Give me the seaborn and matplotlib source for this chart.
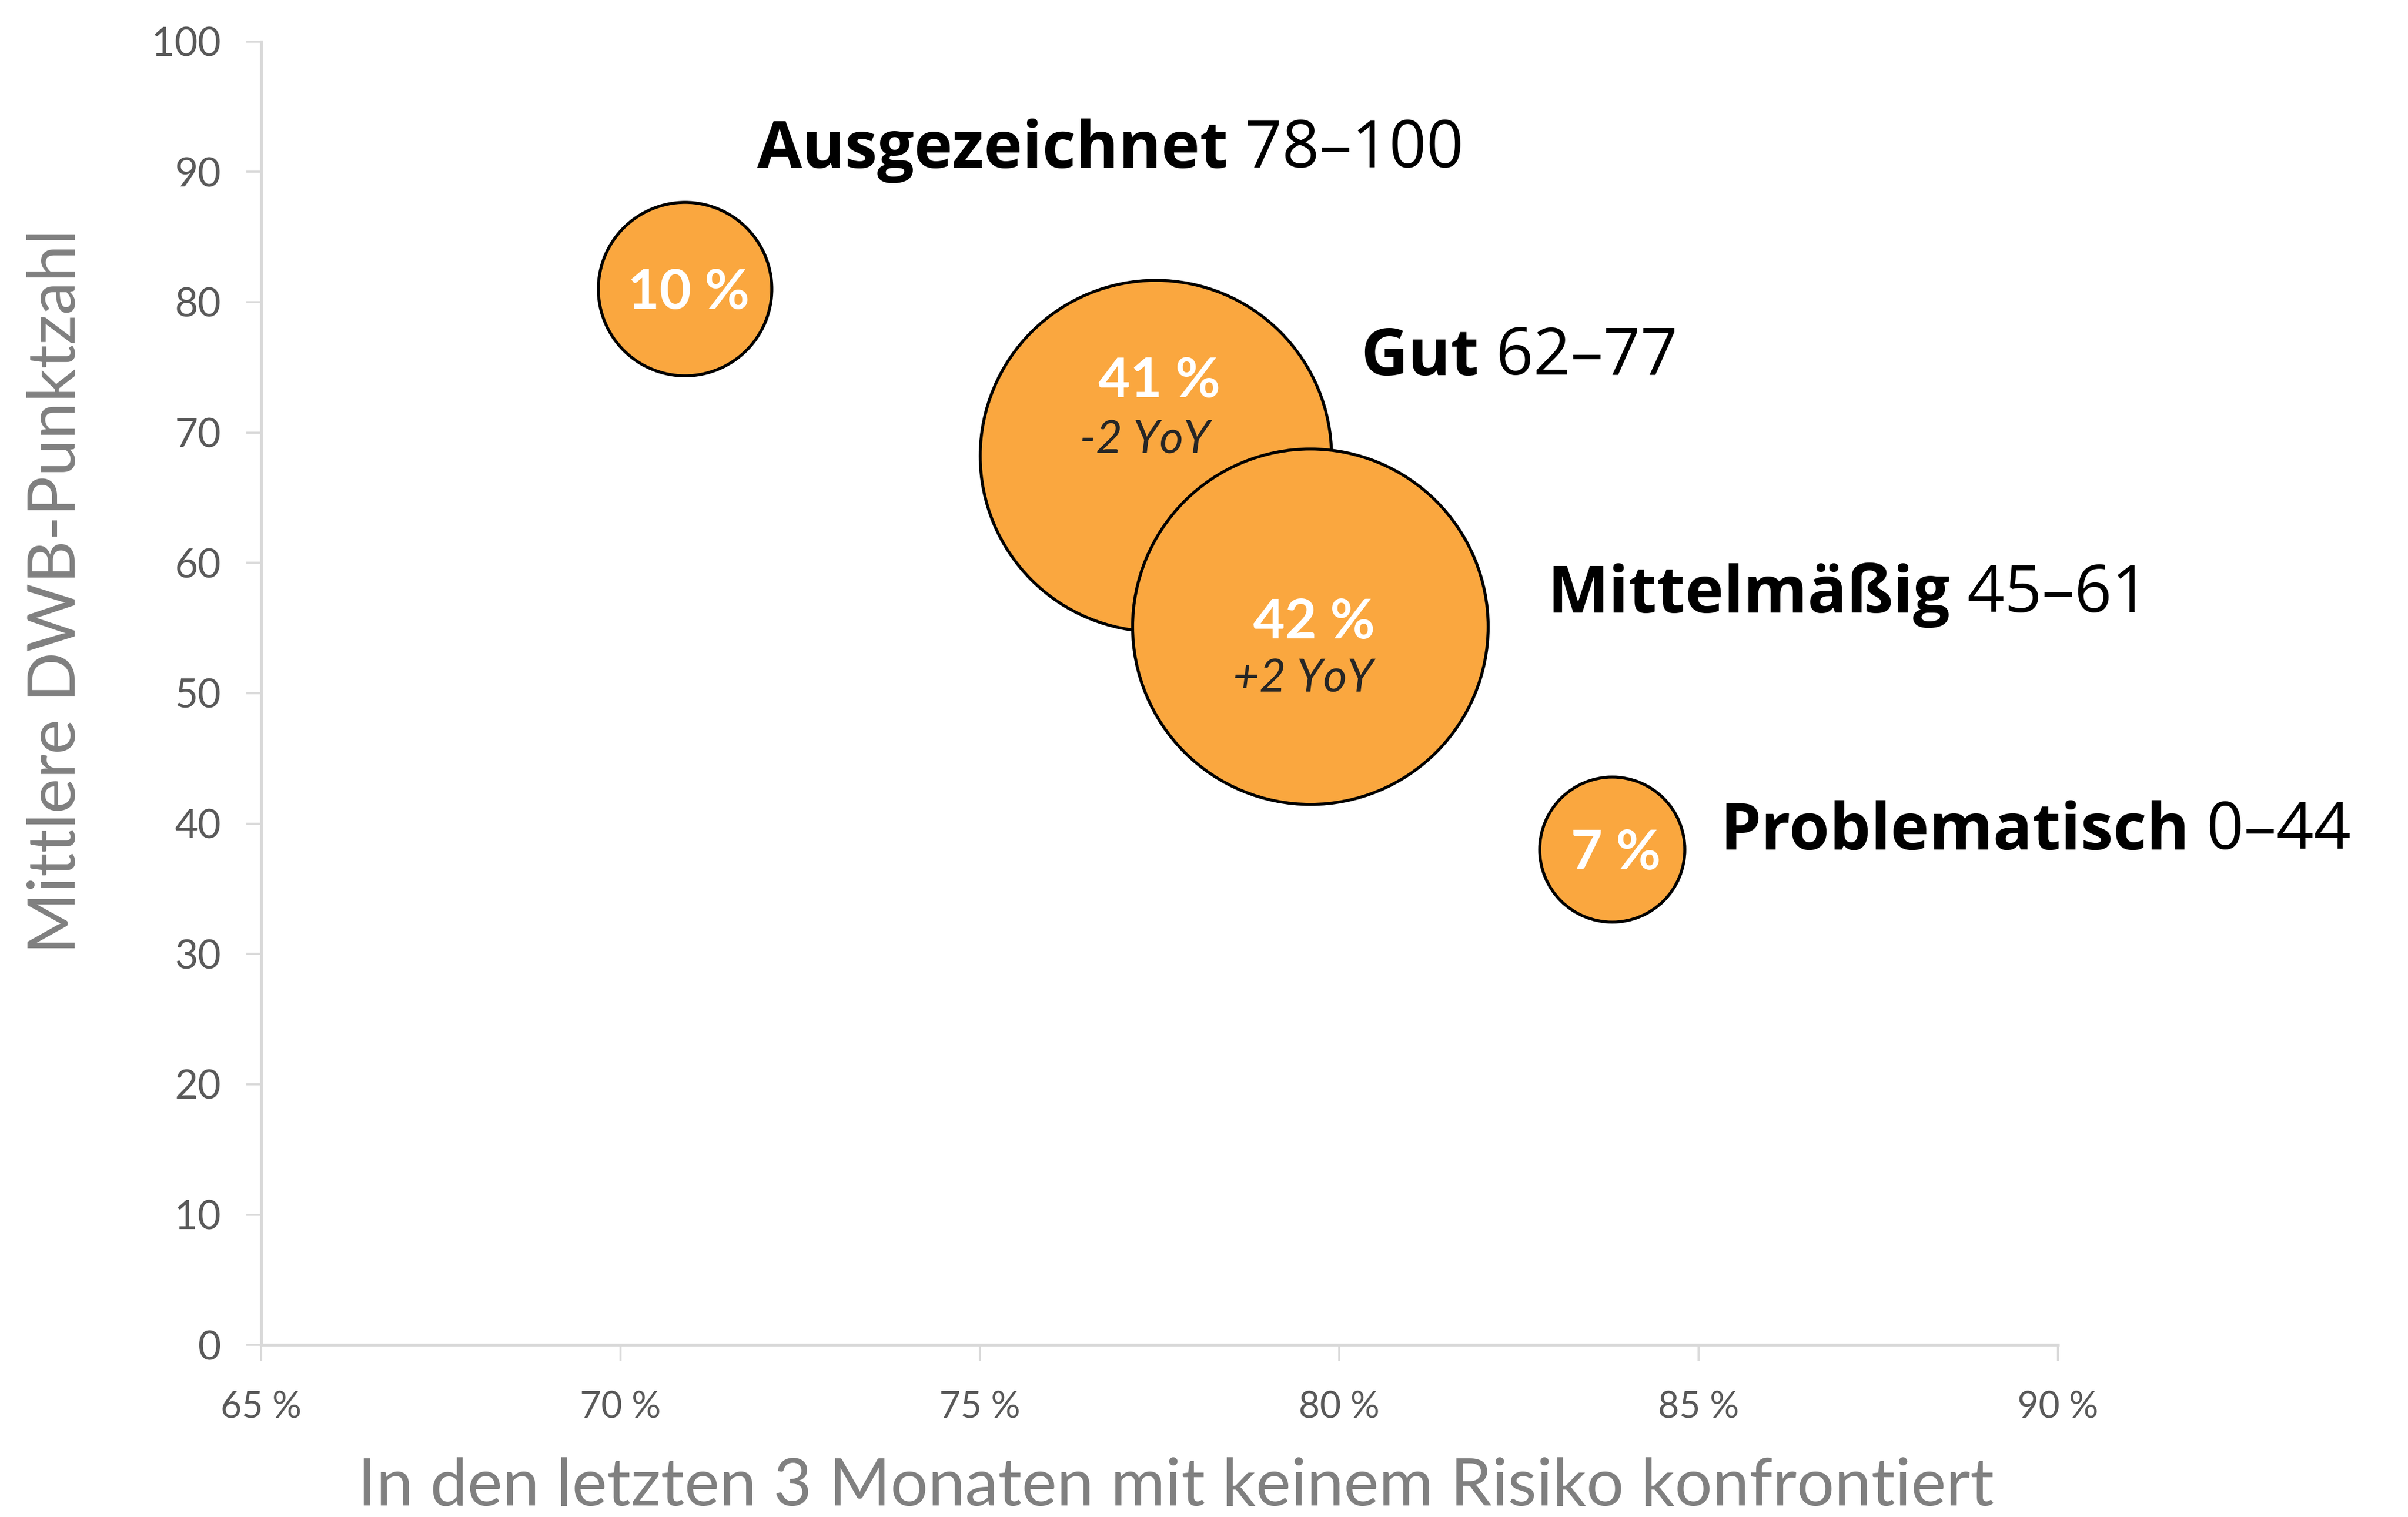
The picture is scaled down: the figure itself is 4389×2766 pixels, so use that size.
import numpy as np
import pandas as pd
import matplotlib
matplotlib.use("Agg")
import matplotlib.pyplot as plt
import seaborn as sns

# data
categories = ["Ausgezeichnet", "Gut", "Mittelmäßig", "Problematisch"]
score_ranges = ["78–100", "62–77", "45–61", "0–44"]
no_risk_pct = [70.9, 77.45, 79.6, 83.8]      # x: share with no risk in last 3 months
mean_score = [81.0, 68.2, 55.1, 38.0]        # y: mean DWB score
share_pct = [10, 41, 42, 7]                  # bubble size
yoy_change = [None, "-2 YoY", "+2 YoY", None]

x_ticks = [65, 70, 75, 80, 85, 90]
y_ticks = list(range(0, 101, 10))

ORANGE = "#FAA73F"
TICK_GREY = "#595959"
LABEL_GREY = "#808080"

df = pd.DataFrame({
    "category": categories,
    "no_risk": no_risk_pct,
    "score": mean_score,
    "share": share_pct,
})

sns.set_theme(style="white")
plt.rcParams["font.family"] = ["Lato", "DejaVu Sans"]
LABEL_FONT = ["Open Sans", "Lato", "DejaVu Sans"]

fig = plt.figure(figsize=(4389 / 300, 2766 / 300), dpi=300)
ax = fig.add_axes([0.1084, 0.1134, 0.7462, 0.8593])

# bubble area proportional to share
k = 576
sns.scatterplot(data=df, x="no_risk", y="score", size="share",
                sizes=(k * min(share_pct), k * max(share_pct)),
                size_norm=(min(share_pct), max(share_pct)),
                color=ORANGE, edgecolor="black", linewidth=1.3,
                alpha=1, legend=False, ax=ax, zorder=3, clip_on=False)

ax.set_xlim(65, 90)
ax.set_ylim(0, 100)
ax.set_xticks(x_ticks)
ax.set_xticklabels([f"{v} %" for v in x_ticks])
ax.set_yticks(y_ticks)

sns.despine(ax=ax)
for side in ["left", "bottom"]:
    ax.spines[side].set_color("#D9D9D9")
    ax.spines[side].set_linewidth(1.3)

ax.tick_params(axis="y", which="both", left=True, length=6.5, width=0.9,
               color="#D9D9D9", labelcolor=TICK_GREY, labelsize=17.5, pad=11)
ax.tick_params(axis="x", which="both", bottom=True, length=7, width=0.9,
               color="#D9D9D9", labelcolor=TICK_GREY, labelsize=16, pad=13)

ax.set_xlabel("In den letzten 3 Monaten mit keinem Risiko konfrontiert",
              fontsize=29, color=LABEL_GREY)
ax.set_ylabel("Mittlere DWB-Punktzahl", fontsize=29, color=LABEL_GREY)
ax.yaxis.set_label_coords(-0.097, 0.578)
ax.xaxis.set_label_coords(0.509, -0.086)

# category labels beside the bubbles (layout offsets, in data units)
label_pos = [(71.9, 91.6), (80.3, 75.7), (82.9, 57.5), (85.3, 39.3)]
for (lx, ly), name, rng in zip(label_pos, categories, score_ranges):
    t = ax.text(lx, ly, name, fontsize=28.5, fontweight="bold", color="black",
                family=LABEL_FONT, ha="left", va="center", zorder=4)
    ax.annotate(" " + rng, xy=(1, 0), xycoords=t, fontsize=28.5,
                family=LABEL_FONT, color="black", ha="left", va="bottom", zorder=4)

# share + yoy inside bubbles
share_dy = [0.0, 6.0, 0.6, 0.0]
yoy_pos = [None, (77.3, 69.4), (79.5, 51.1), None]
for i, row in df.iterrows():
    ax.text(row["no_risk"] + 0.05, row["score"] + share_dy[i] - 0.3, f"{row['share']} %",
            fontsize=24, fontweight="bold", color="white",
            ha="center", va="center", zorder=5)
    if yoy_change[i]:
        yx, yy = yoy_pos[i]
        ax.text(yx, yy, yoy_change[i], fontsize=20, fontstyle="italic",
                color="#262626", ha="center", va="center", zorder=5)

fig.savefig("out.png", dpi=300)
